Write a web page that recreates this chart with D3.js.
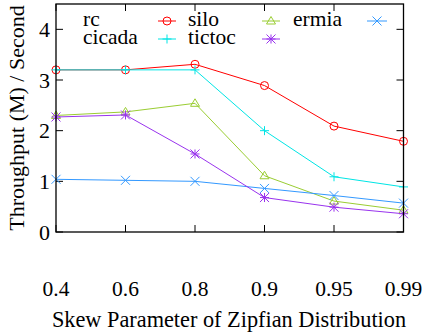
<!DOCTYPE html>
<html><head><meta charset="utf-8">
<script src="https://cdn.jsdelivr.net/npm/d3@7"></script>
<style>body{margin:0;background:#fff}svg{display:block}</style>
</head><body><svg id="c" width="423" height="332" font-family="'Liberation Serif', 'DejaVu Serif', serif"></svg>
<script>
const categories = ["0.4","0.6","0.8","0.9","0.95","0.99"];
const rc     = [3.2, 3.2, 3.31, 2.89, 2.09, 1.79];
const silo   = [2.3, 2.37, 2.54, 1.11, 0.61, 0.43];
const ermia  = [1.04, 1.02, 1.0, 0.86, 0.72, 0.57];
const cicada = [3.2, 3.2, 3.2, 2.0, 1.09, 0.89];
const tictoc = [2.27, 2.31, 1.54, 0.68, 0.49, 0.36];
const yTicks = [0,1,2,3,4];
const seriesNames = ["rc","silo","ermia","cicada","tictoc"];
const seriesColors = ["#ff0000","#9acd32","#3399ff","#00e5e5","#9933ee"];
const seriesMarkers = ["circle","triangle","cross","plus","star"];
const seriesData = [rc, silo, ermia, cicada, tictoc];

const svg = d3.select("#c");
const L=56, R=403.5, T=4, B=232;
const x = d3.scalePoint().domain(categories).range([L,R]).padding(0);
const y = d3.scaleLinear().domain([0,4.5]).range([B,T]);

function marker(g, type, cx, cy, color){
  const s=4.5;
  if(type==="circle") g.append("circle").attr("cx",cx).attr("cy",cy).attr("r",4).attr("fill","none").attr("stroke",color).attr("stroke-width",1);
  else if(type==="triangle") g.append("path").attr("d",`M${cx},${cy-4.5}L${cx+4.5},${cy+3}L${cx-4.5},${cy+3}Z`).attr("fill","none").attr("stroke",color).attr("stroke-width",1);
  else {
    let d="";
    if(type==="cross"||type==="star") d+=`M${cx-s},${cy-s}L${cx+s},${cy+s}M${cx-s},${cy+s}L${cx+s},${cy-s}`;
    if(type==="plus"||type==="star") d+=`M${cx-s},${cy}L${cx+s},${cy}M${cx},${cy-s}L${cx},${cy+s}`;
    g.append("path").attr("d",d).attr("fill","none").attr("stroke",color).attr("stroke-width",1);
  }
}

const tk = svg.append("g").attr("stroke","#000").attr("stroke-width",1);
yTicks.forEach(v=>{
  tk.append("line").attr("x1",L).attr("x2",L+7).attr("y1",y(v)).attr("y2",y(v));
  tk.append("line").attr("x1",R-7).attr("x2",R).attr("y1",y(v)).attr("y2",y(v));
});
categories.forEach(c=>{
  tk.append("line").attr("x1",x(c)).attr("x2",x(c)).attr("y1",B).attr("y2",B-7);
  tk.append("line").attr("x1",x(c)).attr("x2",x(c)).attr("y1",T).attr("y2",T+7);
});
svg.selectAll(".yl").data(yTicks).join("text").attr("x",50).attr("y",d=>y(d)+7.5)
  .attr("text-anchor","end").attr("font-size",22).text(d=>d);
svg.selectAll(".xl").data(categories).join("text").attr("x",d=>x(d)).attr("y",296)
  .attr("text-anchor","middle").attr("font-size",21.5).text(d=>d);
svg.append("text").attr("x",229).attr("y",327).attr("text-anchor","middle").attr("font-size",22.3).text("Skew Parameter of Zipfian Distribution");
svg.append("text").attr("transform",`translate(24,${(B+T)/2}) rotate(-90)`).attr("text-anchor","middle").attr("font-size",22).text("Throughput (M) / Second");

const line = d3.line().x((d,i)=>x(categories[i])).y(d=>y(d));
seriesData.forEach((arr,k)=>{
  const g = svg.append("g");
  g.append("path").attr("d",line(arr)).attr("fill","none").attr("stroke",seriesColors[k]).attr("stroke-width",1);
  arr.forEach((v,i)=>marker(g,seriesMarkers[k],x(categories[i]),y(v),seriesColors[k]));
});

const legPos = [[83,26,158,176],[188,26,262,280],[293,26,367,387],[83,44,158,176],[188,44,262,280]];
seriesNames.forEach((n,k)=>{
  const [tx,ty,sx1,sx2]=legPos[k];
  const lg = svg.append("g");
  lg.append("text").attr("x",tx).attr("y",ty).attr("font-size",21.5).text(n);
  const ly = ty-5;
  lg.append("line").attr("x1",sx1).attr("x2",sx2).attr("y1",ly).attr("y2",ly).attr("stroke",seriesColors[k]).attr("stroke-width",1);
  marker(lg,seriesMarkers[k],(sx1+sx2)/2,ly,seriesColors[k]);
});

svg.append("rect").attr("x",L).attr("y",T).attr("width",R-L).attr("height",B-T).attr("fill","none").attr("stroke","#000").attr("stroke-width",1.3);
</script></body></html>
